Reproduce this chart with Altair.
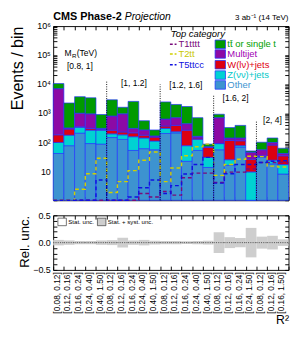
import json
import altair as alt
import pandas as pd

YMIN, YMAX = 1, 1000000
FONT = "Liberation Sans"

# ---------------- data ----------------
r2_bins = ["[0.08, 0.12]", "[0.12, 0.16]", "[0.16, 0.24]", "[0.24, 0.40]", "[0.40, 1.50]",
           "[0.08, 0.12]", "[0.12, 0.16]", "[0.16, 0.24]", "[0.24, 0.40]", "[0.40, 1.50]",
           "[0.08, 0.12]", "[0.12, 0.16]", "[0.16, 0.24]", "[0.24, 0.40]", "[0.40, 1.50]",
           "[0.08, 0.12]", "[0.12, 0.16]", "[0.16, 0.24]", "[0.24, 1.50]",
           "[0.08, 0.12]", "[0.12, 0.16]", "[0.16, 1.50]"]

group_labels = ["[0.8, 1]", "[1, 1.2]", "[1.2, 1.6]", "[1.6, 2]", "[2, 4]"]
group_label_x = [2.5, 7.55, 12.4, 17.05, 20.5]
group_label_y = [41000, 10500, 9300, 3400, 560]
sep_x = [5, 10, 15, 19]
sep_top = [12200, 9800, 4300, 540]

other = [41, 76, 205, 90, 86, 145, 125, 52, 60, 55, 200, 210, 22, 52, 13.5, 55, 16, 67, 0, 30, 18, 8]
zinv = [57, 99, 125, 170, 174, 50, 55, 103, 80, 55, 100, 20, 54, 73, 16.5, 35, 9, 9, 9.5, 2, 6, 9]
wjets = [82, 110, 10, 40, 15, 65, 45, 55, 35, 40, 60, 150, 184, 15, 37, 0, 90, 36, 16.5, 2, 56, 17]
qcd = [6820, 25, 660, 650, 25, 540, 725, 90, 90, 15, 270, 320, 175, 20, 3, 610, 25, 28, 19, 21, 18, 7]
ttbar = [3500, 1940, 2700, 2450, 600, 2100, 650, 2250, 285, 100, 1820, 1300, 1265, 540, 16, 220, 180, 240, 5, 45, 42, 21]

t1tttt = [0, 0, 0, 0, 0, 0, 0, 0, 1.7, 1.3, 2.0, 1.5, 6, 8.6, 8.6, 4.1, 9.3, 9.3, 12, 20, 20, 20]
t2tt = [0, 0, 2.4, 8.2, 28, 1.85, 4.4, 10.5, 24, 46, 4.4, 13, 34, 70, 86, 7.2, 17, 26, 33, 32, 15, 14]
t5ttcc = [0, 0, 0, 0, 5, 0, 0, 1.3, 2.7, 5, 1.7, 3.2, 8, 17, 30, 3.9, 8.2, 17, 17, 20, 22, 23]

rel_unc = [0.05, 0.04, 0.03, 0.03, 0.04, 0.045, 0.09, 0.04, 0.05, 0.035, 0.03, 0.03, 0.025, 0.03,
           0.035, 0.19, 0.10, 0.085, 0.27, 0.11, 0.125, 0.06]

bkg_names = ["Other", "Z(νν)+jets", "W(lν)+jets", "Multijet", "tt̄ or single t"]
bkg_colors = ["#3d93d0", "#00d2d2", "#dd0011", "#8c0aa5", "#009a00"]
bkg_text_colors = ["#3d93d0", "#00c8c8", "#e00010", "#a000b4", "#00a000"]
sig_names = ["T1tttt", "T2tt", "T5ttcc"]
sig_colors = ["#7a0a7a", "#d0d000", "#1010e0"]

n = len(r2_bins)

# ---------------- tables ----------------
rows = []
for i in range(n):
    cum = 0
    for name, vals in zip(bkg_names, [other, zinv, wjets, qcd, ttbar]):
        lo = max(cum, YMIN)
        cum += vals[i]
        hi = max(cum, YMIN)
        rows.append(dict(x0=i, x1=i + 1, y0=lo, y1=hi, process=name))
bkg = pd.DataFrame(rows)

rows = []
for name, vals in zip(sig_names, [t1tttt, t2tt, t5ttcc]):
    for i in range(n + 1):
        v = vals[min(i, n - 1)]
        rows.append(dict(x0=i, y0=max(v, YMIN / 2), model=name))
sig = pd.DataFrame(rows)

seps = pd.DataFrame(dict(x0=sep_x, y0=[YMIN] * len(sep_x), top=sep_top))
glab = pd.DataFrame(dict(label=group_labels, x0=group_label_x, y0=group_label_y))
band = pd.DataFrame(dict(x0=list(range(n)), x1=[i + 1 for i in range(n)],
                         lo=[-u for u in rel_unc], hi=rel_unc, zero=[0] * n))

xscale = alt.Scale(domain=[0, n], nice=False, zero=False)
yscale = alt.Scale(type="log", domain=[YMIN, YMAX], clamp=True, nice=False)
TICK = alt.ExprRef(expr="-4")

dec_vals = [10, 100, 1000, 10000, 100000, 1000000]
tick_vals = [m * 10 ** k for k in range(0, 6) for m in range(1, 10)] + [1000000]
ylab_expr = ("indexof(%s, datum.value) >= 0 ? %s[indexof(%s, datum.value)] : ''"
             % (json.dumps(dec_vals), json.dumps(["10", "10²", "10³", "10⁴", "10⁵", "10⁶"]),
                json.dumps(dec_vals)))

top_yaxis = alt.Axis(values=tick_vals, labelExpr=ylab_expr, title="Events / bin",
                     titleFontSize=17, titleFontWeight="normal", titleAnchor="end",
                     titlePadding=11, labelFontSize=9.5, grid=False, domain=False,
                     labelOverlap=False, labelBound=False, labelFlush=False,
                     tickSize=TICK, labelPadding=7, tickColor="black")
top_xaxis = alt.Axis(values=list(range(n + 1)), labels=False, title=None, grid=False,
                     domain=False, tickSize=TICK, tickColor="black")
mirror_y = alt.Axis(orient="right", values=tick_vals, labels=False, title=None, grid=False,
                    domain=False, tickSize=TICK, tickColor="black")
mirror_x = alt.Axis(orient="top", values=list(range(n + 1)), labels=False, title=None, grid=False,
                    domain=False, tickSize=TICK, tickColor="black")

X = lambda f: alt.X(f, scale=xscale, axis=top_xaxis)
Y = lambda f: alt.Y(f, scale=yscale, axis=top_yaxis)

rects = alt.Chart(bkg).mark_rect(stroke="#2233ff", strokeWidth=0.7).encode(
    x=X("x0:Q"), x2="x1:Q", y=Y("y0:Q"), y2="y1:Q",
    fill=alt.Fill("process:N", scale=alt.Scale(domain=bkg_names, range=bkg_colors), legend=None),
)

lines = alt.Chart(sig).mark_line(interpolate="step-after", strokeDash=[4, 3], strokeWidth=1.5).encode(
    x=X("x0:Q"), y=Y("y0:Q"),
    stroke=alt.Stroke("model:N", scale=alt.Scale(domain=sig_names, range=sig_colors), legend=None),
)

sep_rules = alt.Chart(seps).mark_rule(color="black", strokeDash=[1, 1.5], strokeWidth=1).encode(
    x=X("x0:Q"), y=Y("y0:Q"), y2="top:Q")

gtext = alt.Chart(glab).mark_text(font=FONT, fontSize=9, color="black").encode(
    x=X("x0:Q"), y=Y("y0:Q"), text="label:N")

one = pd.DataFrame({"a": [0]})


def txt(s, x, y, size=10, color="black", align="left", style="normal", weight="normal", baseline="middle"):
    return alt.Chart(one).mark_text(text=s, font=FONT, fontSize=size, color=color, align=align,
                                    fontStyle=style, fontWeight=weight, baseline=baseline).encode(
        x=alt.value(x), y=alt.value(y))


deco = []
# titles
deco.append(txt("CMS Phase-2", 0, -7, size=11.5, weight="bold", baseline="alphabetic"))
deco.append(txt("Projection", 76, -7, size=11, style="italic", baseline="alphabetic"))
deco.append(txt("3 ab⁻¹ (14 TeV)", 250, -7, size=8.5, align="right", baseline="alphabetic"))
# M_R label
deco.append(txt("M", 12, 29, size=9))
deco.append(txt("R", 20, 32, size=6.5))
deco.append(txt("(TeV)", 25, 29, size=9))
# legend
row_y = [19.3, 29.6, 41, 52, 62.5]
deco.append(txt("Top category", 125, 9, size=10, style="italic"))
for k, (name, col) in enumerate(zip(sig_names, sig_colors)):
    deco.append(alt.Chart(one).mark_rule(color=col, strokeDash=[3, 2], strokeWidth=1.5).encode(
        x=alt.value(124), x2=alt.value(131), y=alt.value(row_y[k])))
    deco.append(txt(name, 133, row_y[k], size=10, color=col if name != "T2tt" else "#c8c800"))
for k, idx in enumerate([4, 3, 2, 1, 0]):
    deco.append(alt.Chart(one).mark_rect(fill=bkg_colors[idx], stroke="#2233ff", strokeWidth=0.8).encode(
        x=alt.value(172), x2=alt.value(183), y=alt.value(row_y[k] - 4.5), y2=alt.value(row_y[k] + 4.5)))
    deco.append(txt(bkg_names[idx], 185, row_y[k], size=10, color=bkg_text_colors[idx]))

main_top = alt.layer(rects, lines, sep_rules, gtext, *deco)
mirror_top = alt.Chart(seps).mark_rule(opacity=0).encode(
    x=alt.X("x0:Q", scale=xscale, axis=mirror_x),
    y=alt.Y("y0:Q", scale=yscale, axis=mirror_y), y2="top:Q")
top = alt.layer(main_top, mirror_top).resolve_axis(x="independent", y="independent").properties(
    width=250, height=185)

# ---------------- ratio panel ----------------
rvals = [-0.5, -0.4, -0.3, -0.2, -0.1, 0, 0.1, 0.2, 0.3, 0.4, 0.5]
bot_xaxis = alt.Axis(values=list(range(n + 1)),
                     labelExpr="datum.value < %d ? %s[datum.value] : ''" % (n, json.dumps(r2_bins)),
                     labelAngle=-90, labelAlign="right", labelBaseline="middle", labelOffset=3.5,
                     labelFontSize=8.8, labelPadding=6, labelOverlap=False, labelBound=False,
                     labelFlush=False,
                     title="R²", titleFontSize=13,
                     titleFontWeight="normal", titleAnchor="end", titleAlign="right", titlePadding=1,
                     grid=False, domain=False, tickSize=TICK, tickColor="black")
bot_yaxis = alt.Axis(values=rvals,
                     labelExpr="abs(datum.value) < 1e-9 ? '0.0' : (abs(abs(datum.value) - 0.5) < 1e-9 ? format(datum.value, '.1f') : '')",
                     title="Rel. unc.", titleFontSize=14,
                     titleFontWeight="normal", titleAnchor="end", titlePadding=1, labelFontSize=9.5,
                     labelOverlap=False, labelFlush=False, labelBound=False,
                     grid=False, domain=False, tickSize=TICK, labelPadding=7,
                     tickColor="black")
rmirror_y = alt.Axis(orient="right", values=rvals, labels=False, title=None, grid=False,
                     domain=False, tickSize=TICK, tickColor="black")

rscale = alt.Scale(domain=[-0.5, 0.5], nice=False)
BX = lambda f: alt.X(f, scale=xscale, axis=bot_xaxis)
BY = lambda f: alt.Y(f, scale=rscale, axis=bot_yaxis)

band_l = alt.Chart(band).mark_rect(fill="#cecece").encode(
    x=BX("x0:Q"), x2="x1:Q", y=BY("lo:Q"), y2="hi:Q")
zero_l = alt.Chart(band).mark_rule(color="#555555", strokeDash=[1.2, 1.2], strokeWidth=1).encode(
    x=BX("x0:Q"), x2="x1:Q", y=BY("zero:Q"))

rdeco = [
    alt.Chart(one).mark_rect(fill="white", stroke="#333333", strokeWidth=0.7).encode(
        x=alt.value(5), x2=alt.value(14), y=alt.value(3), y2=alt.value(11)),
    txt("Stat. unc.", 16, 7.5, size=6.5),
    alt.Chart(one).mark_rect(fill="#cecece", stroke="#333333", strokeWidth=0.7).encode(
        x=alt.value(47), x2=alt.value(56), y=alt.value(3), y2=alt.value(11)),
    txt("Stat. + syst. unc.", 58, 7.5, size=6.5),
]

main_bot = alt.layer(band_l, zero_l, *rdeco)
mirror_bot = alt.Chart(band).mark_rule(opacity=0).encode(
    x=alt.X("x0:Q", scale=xscale, axis=mirror_x),
    y=alt.Y("zero:Q", scale=rscale, axis=rmirror_y))
bottom = alt.layer(main_bot, mirror_bot).resolve_axis(x="independent", y="independent").properties(
    width=250, height=58)

chart = alt.vconcat(top, bottom, spacing=5).properties(
    padding={"top": -8, "left": 0, "right": 0, "bottom": 0}).configure_view(
    stroke="black", strokeWidth=1).configure_axis(
    labelFont=FONT, titleFont=FONT, labelColor="black", titleColor="black", labelOverlap=False)

chart.save("out.html", embed_options={"renderer": "svg", "actions": False})
